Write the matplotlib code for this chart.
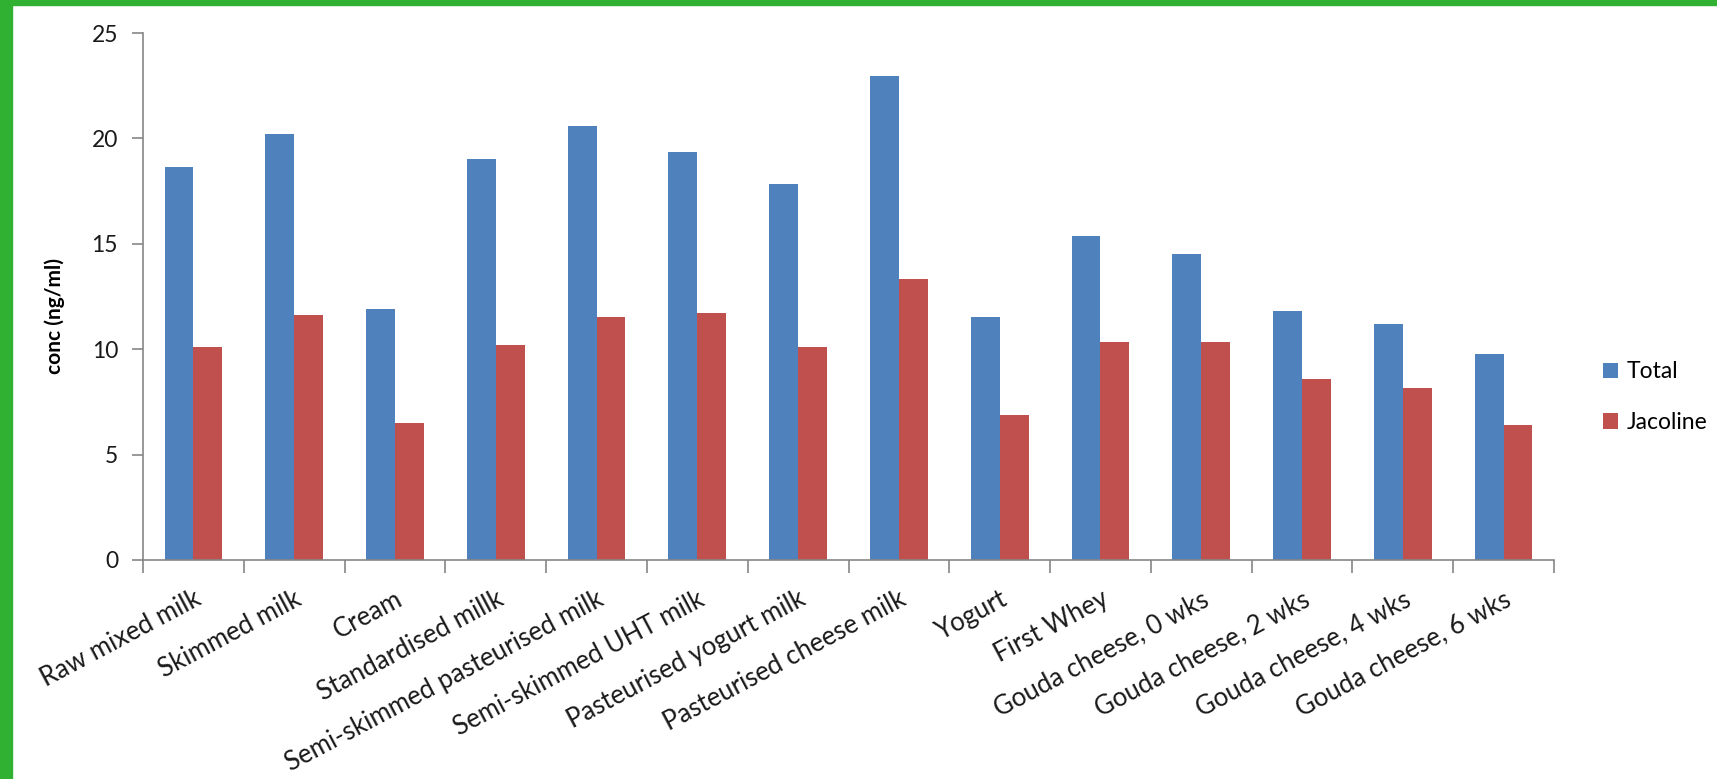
import numpy as np
import matplotlib
matplotlib.use('agg')
import matplotlib.pyplot as plt
from matplotlib.patches import Rectangle

# data
categories = ['Raw mixed milk', 'Skimmed milk', 'Cream', 'Standardised millk',
              'Semi-skimmed pasteurised milk', 'Semi-skimmed UHT milk',
              'Pasteurised yogurt milk', 'Pasteurised cheese milk', 'Yogurt',
              'First Whey', 'Gouda cheese, 0 wks', 'Gouda cheese, 2 wks',
              'Gouda cheese, 4 wks', 'Gouda cheese, 6 wks']
total = [18.65, 20.2, 11.9, 19.0, 20.6, 19.35, 17.85, 22.95, 11.55, 15.35, 14.5, 11.8, 11.2, 9.75]
jacoline = [10.1, 11.6, 6.5, 10.2, 11.55, 11.7, 10.1, 13.35, 6.9, 10.35, 10.35, 8.6, 8.15, 6.4]
y_ticks = [0, 5, 10, 15, 20, 25]

plt.rcParams['font.family'] = ['Lato', 'DejaVu Sans']

W, H = 1717, 779
fig = plt.figure(figsize=(W / 100, H / 100), dpi=100)
ax = fig.add_axes([143 / W, 1 - 560 / H, (1554 - 143) / W, (560 - 33) / H])

# green frame on top and left edge
green = '#31b131'
fig.patches.append(Rectangle((0, 1 - 5 / H), 1, 5 / H, transform=fig.transFigure, color=green, zorder=0))
fig.patches.append(Rectangle((0, 0), 12 / W, 1, transform=fig.transFigure, color=green, zorder=0))

x = np.arange(len(categories))
w = 0.286
ax.bar(x - w / 2, total, w, color='#4F81BD', label='Total')
ax.bar(x + w / 2, jacoline, w, color='#C0504D', label='Jacoline')

ax.set_xlim(-0.5, len(categories) - 0.5)
ax.set_ylim(0, 25)
ax.set_yticks(y_ticks)
ax.set_xticks(np.arange(len(categories) + 1) - 0.5, minor=False)
ax.set_xticklabels([])
ax.set_xticks(x, minor=True)
ax.set_xticklabels(categories, minor=True, rotation=28, ha='right', va='top',
                   rotation_mode='anchor', fontsize=18.5, color='#1a1a1a')
ax.tick_params(axis='x', which='minor', length=0, pad=19)
ax.tick_params(axis='x', which='major', length=9, width=1.2, color='#868686', direction='out')
ax.tick_params(axis='y', length=8, width=1.2, color='#868686', labelsize=16.5,
               labelcolor='#1a1a1a', pad=10)

for s in ['top', 'right']:
    ax.spines[s].set_visible(False)
for s in ['left', 'bottom']:
    ax.spines[s].set_color('#868686')
    ax.spines[s].set_linewidth(1.2)

ax.set_ylabel('conc (ng/ml)', fontsize=15, fontweight='bold')
ax.yaxis.set_label_coords(-0.055, 0.463)

leg = ax.legend(loc='center left', bbox_to_anchor=(1.02, 0.309), frameon=False,
                fontsize=16.5, handlelength=0.65, handleheight=0.65, handletextpad=0.4,
                labelspacing=1.3)

fig.savefig('out.png', dpi=100)
